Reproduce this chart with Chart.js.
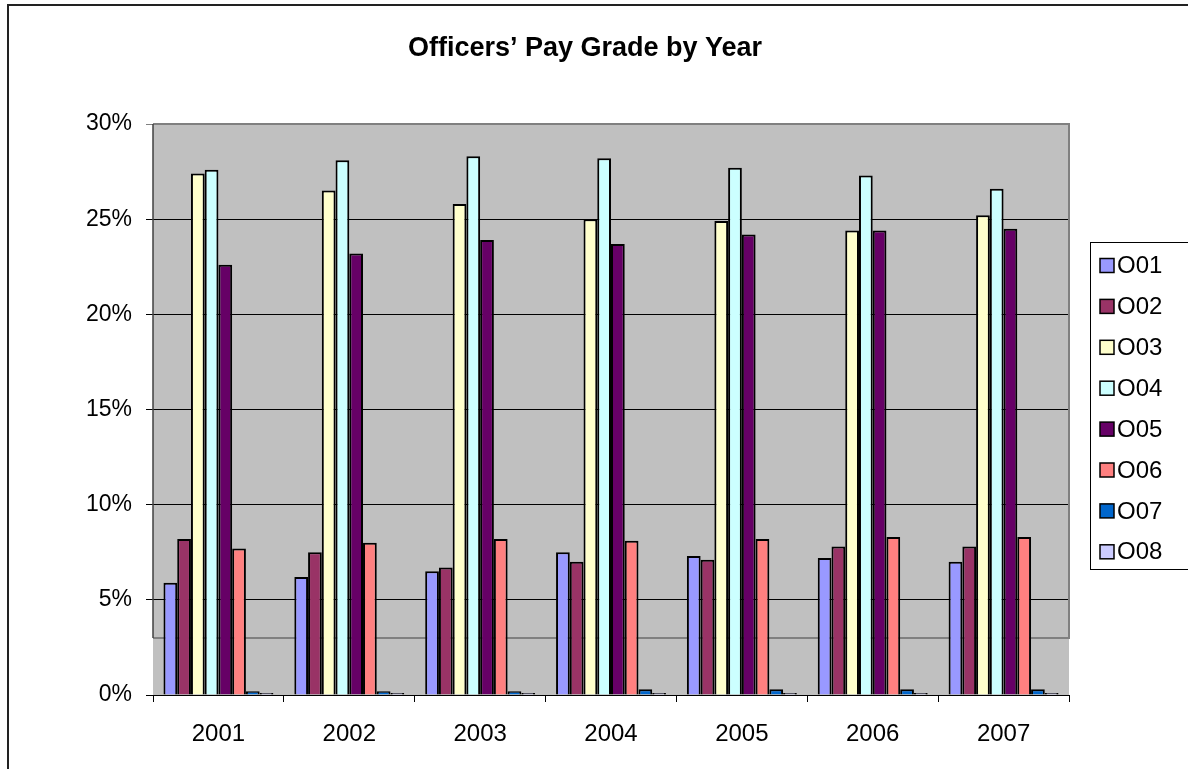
<!DOCTYPE html>
<html>
<head>
<meta charset="utf-8">
<script src="https://cdn.jsdelivr.net/npm/chart.js@4/dist/chart.umd.min.js"></script>
<style>
  html, body { margin: 0; padding: 0; background: #fff; overflow: hidden; }
  #frame { position: absolute; left: 7px; top: 4px; width: 1300px; height: 900px; border-left: 2px solid #222; border-top: 2px solid #222; box-sizing: border-box; }
  #c { position: absolute; left: 0; top: 0; }
</style>
</head>
<body>
<div id="frame"></div>
<canvas id="c" width="1188" height="769"></canvas>
<script>
const titleText = 'Officers\u2019 Pay Grade by Year';
const years = ['2001', '2002', '2003', '2004', '2005', '2006', '2007'];
const seriesNames = ['O01', 'O02', 'O03', 'O04', 'O05', 'O06', 'O07', 'O08'];
const o01 = [5.9, 6.2, 6.5, 7.5, 7.3, 7.2, 7.0];
const o02 = [8.2, 7.5, 6.7, 7.0, 7.1, 7.8, 7.8];
const o03 = [27.4, 26.5, 25.8, 25.0, 24.9, 24.4, 25.2];
const o04 = [27.6, 28.1, 28.3, 28.2, 27.7, 27.3, 26.6];
const o05 = [22.6, 23.2, 23.9, 23.7, 24.2, 24.4, 24.5];
const o06 = [7.7, 8.0, 8.2, 8.1, 8.2, 8.3, 8.3];
const o07 = [0.2, 0.2, 0.2, 0.3, 0.3, 0.3, 0.3];
const o08 = [0.1, 0.1, 0.1, 0.1, 0.1, 0.1, 0.1];
const yMin = 0, yMax = 30, yStep = 5;
const colors = ['#9999FF', '#993366', '#FFFFCC', '#CCFFFF', '#660066', '#FF8080', '#0066CC', '#CCCCFF'];

const seriesData = [o01, o02, o03, o04, o05, o06, o07, o08];
const FONT = "'Liberation Sans', Arial, sans-serif";

const decor = {
  id: 'decor',
  beforeDraw(chart) {
    const { ctx, chartArea: a } = chart;
    ctx.save();
    ctx.fillStyle = '#C0C0C0';
    ctx.fillRect(a.left, a.top, a.right - a.left, a.bottom - a.top);
    ctx.restore();
  },
  beforeDatasetsDraw(chart) {
    const { ctx, chartArea: a } = chart;
    const yS = chart.scales.y;
    const yArt = yS.getPixelForValue(3);
    ctx.save();
    ctx.strokeStyle = '#808080';
    ctx.lineWidth = 2;
    ctx.beginPath();
    ctx.moveTo(a.left, a.top);
    ctx.lineTo(a.right, a.top);
    ctx.lineTo(a.right, yArt);
    ctx.lineTo(a.left, yArt);
    ctx.stroke();
    ctx.strokeStyle = '#404040';
    ctx.lineWidth = 1.5;
    ctx.beginPath();
    ctx.moveTo(a.left, a.top);
    ctx.lineTo(a.left, yArt);
    ctx.stroke();
    ctx.restore();
  },
  afterDraw(chart) {
    const { ctx } = chart;
    ctx.save();
    // title
    ctx.fillStyle = '#000';
    ctx.font = 'bold 27px ' + FONT;
    ctx.textAlign = 'center';
    ctx.textBaseline = 'alphabetic';
    ctx.fillText(titleText, 585, 56);
    // legend
    const lx = 1090, ly = 242, lw = 120, lh = 327;
    ctx.fillStyle = '#fff';
    ctx.fillRect(lx, ly, lw, lh);
    ctx.strokeStyle = '#000';
    ctx.lineWidth = 1;
    ctx.strokeRect(lx + 0.5, ly + 0.5, lw, lh);
    ctx.font = '24px ' + FONT;
    ctx.textAlign = 'left';
    ctx.textBaseline = 'middle';
    chart.data.datasets.forEach((ds, i) => {
      const cy = 265.5 + i * 40.9;
      ctx.fillStyle = ds.backgroundColor;
      ctx.fillRect(1100, cy - 7, 14, 14);
      ctx.strokeStyle = '#000';
      ctx.lineWidth = 1.5;
      ctx.strokeRect(1100, cy - 7, 14, 14);
      ctx.fillStyle = '#000';
      ctx.fillText(ds.label, 1117, cy + 1);
    });
    ctx.restore();
  }
};

new Chart(document.getElementById('c'), {
  type: 'bar',
  data: {
    labels: years,
    datasets: seriesNames.map((n, i) => ({
      label: n,
      data: seriesData[i],
      backgroundColor: colors[i],
      borderColor: '#000',
      borderWidth: 2,
      categoryPercentage: 0.84,
      barPercentage: 1.0
    }))
  },
  options: {
    responsive: false,
    animation: false,
    layout: { padding: { left: 0, right: 119, top: 124, bottom: 0 } },
    plugins: { legend: { display: false }, title: { display: false }, tooltip: { enabled: false } },
    scales: {
      x: {
        afterFit(s) { s.height = 74; },
        grid: { offset: true, drawOnChartArea: false, drawTicks: true, tickLength: 7, color: '#000', lineWidth: 1 },
        border: { display: true, color: '#000', width: 1 },
        ticks: { color: '#000', font: { family: FONT, size: 24 }, padding: 18, maxRotation: 0 }
      },
      y: {
        min: yMin, max: yMax,
        afterFit(s) { s.width = 153; },
        grid: {
          drawTicks: true, tickLength: 7, lineWidth: 1,
          color: (c) => (c.tick && c.tick.value === yMax) ? '#808080' : '#000'
        },
        border: { display: false },
        ticks: { stepSize: yStep, color: '#000', font: { family: FONT, size: 23 }, padding: 14,
                 callback: (v) => v + '%' }
      }
    }
  },
  plugins: [decor]
});
</script>
</body>
</html>
